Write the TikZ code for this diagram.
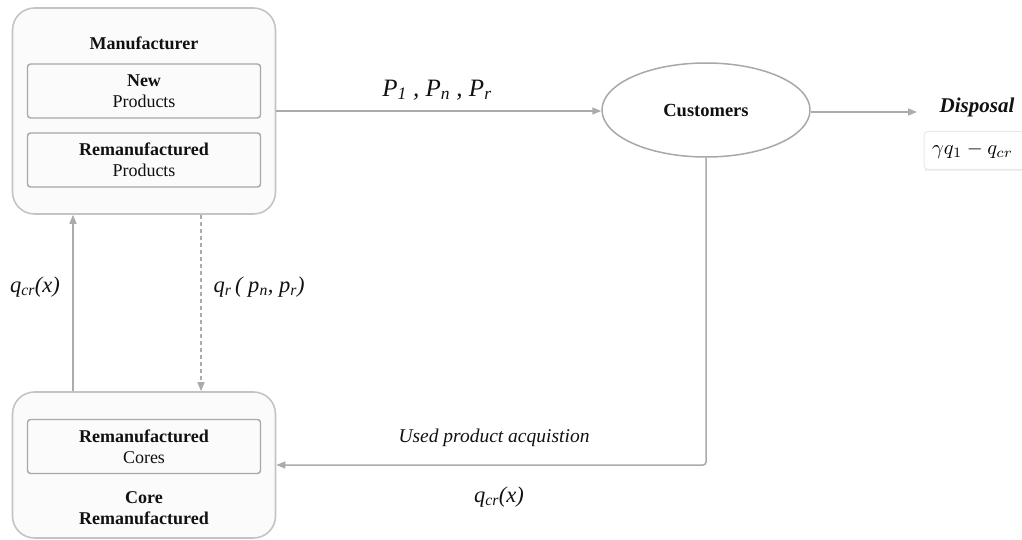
\documentclass[tikz,border=0pt]{standalone}
\usepackage{graphicx}
\usepackage{fontspec}
\setmainfont{Liberation Serif}
\usetikzlibrary{arrows.meta,shapes.geometric}
\definecolor{boxline}{HTML}{C4C4C4}
\definecolor{innerline}{HTML}{A8A8A8}
\definecolor{conn}{HTML}{ABABAB}
\definecolor{boxfill}{HTML}{FBFBFB}
\definecolor{txt}{HTML}{111111}
\tikzset{
  outerbox/.style={draw=boxline, line width=1.6pt, fill=boxfill, rounded corners=22pt, inner sep=0pt},
  innerbox/.style={draw=innerline, line width=1.4pt, fill=boxfill, rounded corners=3pt,
     minimum width=233pt, minimum height=54pt, inner sep=0pt, align=center,
     font=\fontsize{18}{21}\selectfont, text=txt},
  boxtitle/.style={font=\fontsize{18}{21}\selectfont\bfseries, align=center, text=txt, inner sep=0pt},
  arr/.style={draw=conn, line width=1.5pt, -{Triangle[length=9pt,width=7pt]}, color=conn},
  lbl/.style={font=\fontsize{19.5}{22}\selectfont\itshape, text=txt, inner sep=0pt},
  mlbl/.style={font=\fontsize{22.5}{24}\selectfont\itshape, text=txt, inner sep=0pt},
}
\begin{document}
\begin{tikzpicture}[x=1pt,y=-1pt]
\useasboundingbox (0,0) rectangle (1022,540);
% Manufacturer box
\node[outerbox, minimum width=263pt, minimum height=206pt] (mfr) at (144,111) {};
\node[boxtitle] (mfrt) at (144,43) {Manufacturer};
\node[innerbox] (newp) at (144,91) {\textbf{New}\\Products};
\node[innerbox] (remp) at (144,160) {\textbf{Remanufactured}\\Products};
% Core box
\node[outerbox, minimum width=263pt, minimum height=146pt] (core) at (144,465) {};
\node[innerbox] (cores) at (144,446.5) {\textbf{Remanufactured}\\Cores};
\node[boxtitle] (coret) at (144,508) {Core\\Remanufactured};
% Customers
\node[ellipse, draw=innerline, line width=1.5pt, fill=white, minimum width=208pt, minimum height=94pt,
      inner sep=0pt, font=\fontsize{18.5}{21}\selectfont\bfseries, text=txt] (cust) at (706,110) {Customers};
% Disposal
\node[font=\fontsize{21}{23}\selectfont\bfseries\itshape, text=txt, inner sep=0pt] (disp) at (977,107) {Disposal};
\coordinate (dispin) at (917,112);
\fill[black!6] (925,133) rectangle (1022,171);
\node[draw=black!9, line width=1pt, fill=white, rounded corners=4pt, minimum width=104pt, minimum height=38pt,
      inner sep=0pt, anchor=west] (dformula) at (923.5,150.5) {\hspace*{-7pt}\scalebox{2.05}{$\gamma q_1 - q_{cr}$}};
% connectors
\draw[arr] (mfr.east) -- (cust.west |- mfr.east);
\draw[arr] (cust.east |- dispin) -- (dispin);
\draw[arr, rounded corners=3pt] (cust.south) |- (core.east);
\draw[arr] (core.north -| 73,0) -- (mfr.south -| 73,0);
\draw[arr, dashed, dash pattern=on 4pt off 3pt] (mfr.south -| 201,0) -- (core.north -| 201,0);
% labels
\node[font=\fontsize{25}{27}\selectfont\itshape, text=txt, inner sep=0pt] (plab) at (437,90)
  {P\textsubscript{1} , P\textsubscript{n} , P\textsubscript{r}};
\node[mlbl] (qcl) at (35,287) {q\textsubscript{cr}(x)};
\node[mlbl] (qrl) at (259,287) {q\textsubscript{r}\,( p\textsubscript{n}, p\textsubscript{r})};
\node[lbl] (used) at (494,438) {Used product acquistion};
\node[mlbl] (qcb) at (499,497) {q\textsubscript{cr}(x)};
\end{tikzpicture}
\end{document}
